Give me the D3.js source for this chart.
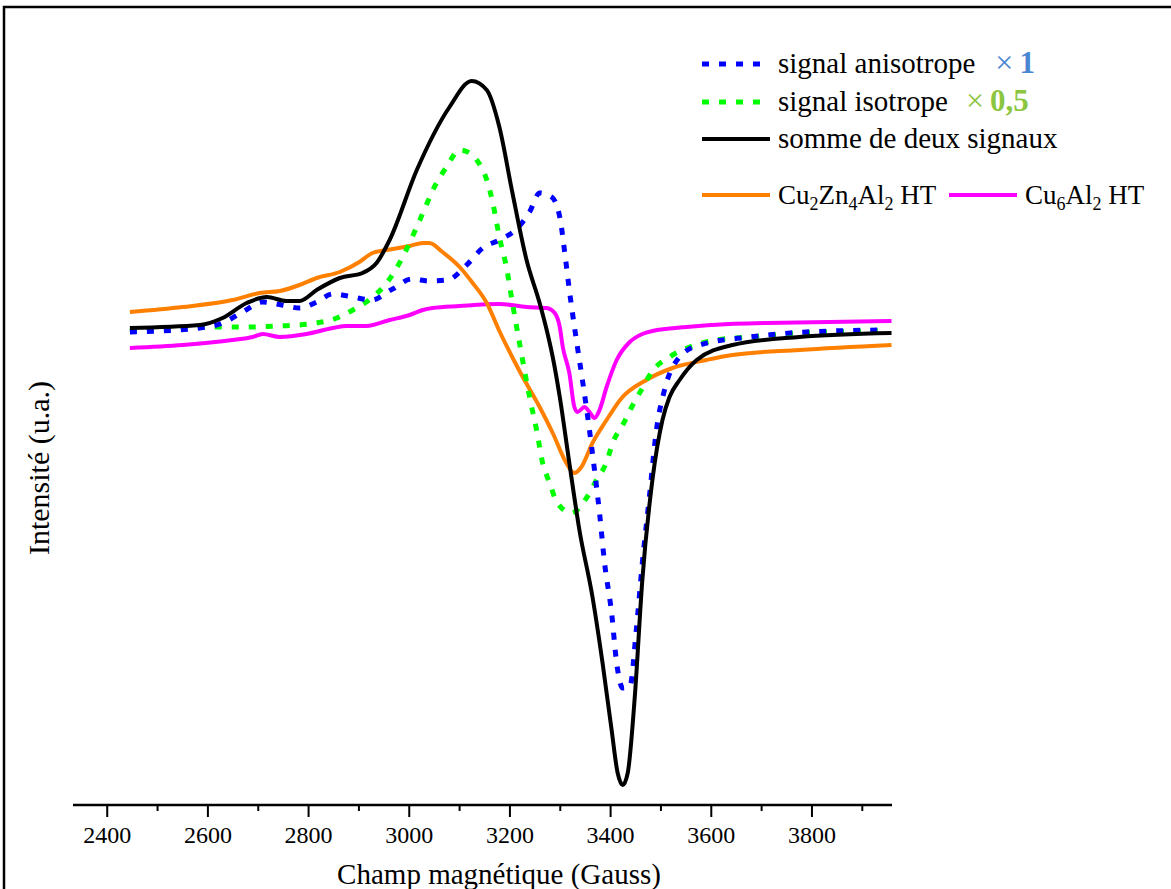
<!DOCTYPE html>
<html>
<head>
<meta charset="utf-8">
<script src="https://cdn.jsdelivr.net/npm/d3@7"></script>
<style>
  html, body { margin: 0; padding: 0; background: #fff; }
  svg { display: block; }
  text { font-family: "Liberation Serif", "Times New Roman", serif; fill: #000; }
</style>
</head>
<body>
<svg id="chart" width="1171" height="889"></svg>
<script>
// ---- Data (magnetic field in Gauss, intensity in arbitrary units) ----
const sumSignal = [
  [2446, 2], [2585, 5], [2630, 12], [2678, 27], [2718, 33], [2757, 29], [2783, 29],
  [2817, 40], [2863, 52], [2908, 57], [2936, 67], [2962, 90], [3016, 160], [3081, 223],
  [3125, 249], [3155, 240], [3180, 203], [3206, 137], [3234, 70], [3260, 27], [3274, 0],
  [3286, -27], [3300, -67], [3319, -133], [3339, -200], [3365, -267], [3385, -333],
  [3403, -400], [3415, -443], [3425, -455], [3435, -443], [3449, -367], [3464, -250],
  [3484, -150], [3504, -90], [3518, -67], [3538, -50], [3572, -30], [3643, -15],
  [3776, -7], [3959, -3]
];
const anisoSignal = [
  [2446, -2], [2585, 2], [2630, 7], [2670, 18], [2710, 28], [2748, 25], [2783, 22],
  [2817, 28], [2849, 36], [2889, 33], [2926, 30], [2968, 41], [3006, 51], [3041, 49],
  [3077, 50], [3115, 65], [3147, 82], [3180, 90], [3216, 102], [3240, 118], [3260, 137],
  [3284, 133], [3300, 113], [3310, 77], [3319, 40], [3333, -10], [3345, -50], [3359, -100],
  [3369, -140], [3379, -183], [3389, -233], [3403, -283], [3413, -333], [3425, -358],
  [3439, -357], [3452, -300], [3464, -233], [3478, -167], [3492, -100], [3508, -60],
  [3538, -27], [3578, -15], [3677, -7], [3790, -2], [3941, 0]
];
const isoSignal = [
  [2446, -1], [2585, 3], [2670, 3], [2744, 4], [2817, 7], [2857, 12], [2889, 20],
  [2926, 32], [2956, 47], [2988, 73], [3022, 110], [3055, 147], [3075, 163], [3101, 180],
  [3121, 177], [3135, 170], [3155, 150], [3167, 127], [3180, 93], [3194, 63], [3206, 27],
  [3220, -13], [3240, -67], [3254, -100], [3266, -133], [3280, -153], [3294, -172],
  [3323, -183], [3353, -168], [3373, -150], [3393, -132], [3405, -113], [3425, -95],
  [3443, -77], [3462, -60], [3484, -41], [3518, -27], [3558, -17], [3611, -10],
  [3677, -7], [3776, -3], [3941, -1]
];
const cuZnAl = [
  [2446, 18], [2551, 23], [2650, 30], [2704, 37], [2744, 39], [2783, 45], [2817, 52],
  [2863, 58], [2902, 68], [2928, 77], [2968, 81], [3002, 84], [3028, 87], [3041, 87],
  [3067, 78], [3101, 63], [3127, 47], [3155, 27], [3180, -1], [3220, -41],
  [3260, -77], [3286, -103], [3313, -133], [3329, -143], [3343, -137], [3365, -113],
  [3393, -90], [3423, -68], [3472, -50], [3524, -38], [3591, -30], [3643, -25],
  [3776, -20], [3959, -15]
];
const cuAl = [
  [2446, -18], [2551, -15], [2650, -10], [2690, -7], [2710, -4], [2744, -7], [2797, -4],
  [2849, 2], [2877, 4], [2916, 4], [2962, 10], [3002, 15], [3028, 20], [3047, 22],
  [3101, 24], [3180, 26], [3234, 23], [3274, 22], [3290, 17], [3300, 3], [3306, -17],
  [3319, -43], [3329, -77], [3335, -82], [3349, -77], [3359, -82], [3369, -88],
  [3379, -80], [3393, -57], [3413, -30], [3439, -12], [3464, -4], [3484, -1],
  [3552, 3], [3637, 6], [3711, 7], [3959, 9]
];

const majorTicks = [2400, 2600, 2800, 3000, 3200, 3400, 3600, 3800];
const minorTicks = [2500, 2700, 2900, 3100, 3300, 3500, 3700, 3900];

const xTitle = "Champ magnétique (Gauss)";
const yTitle = "Intensité (u.a.)";

// ---- Layout ----
const svg = d3.select("#chart");
const x = d3.scaleLinear().domain([2333, 3960]).range([73, 892]);
const y = d3.scaleLinear().domain([-474, 326]).range([804, 4]);

// frame
svg.append("rect").attr("x", 4).attr("y", 7).attr("width", 1200).attr("height", 950)
  .attr("fill", "none").attr("stroke", "#000").attr("stroke-width", 2.5);

// x axis
const axisY = 805;
const gMinor = svg.append("g").attr("transform", `translate(0,${axisY})`)
  .call(d3.axisBottom(x).tickValues(minorTicks).tickSize(6).tickFormat(""));
gMinor.select(".domain").remove();
gMinor.selectAll(".tick line").attr("stroke", "#000").attr("stroke-width", 2);

const gMajor = svg.append("g").attr("transform", `translate(0,${axisY})`)
  .call(d3.axisBottom(x).tickValues(majorTicks).tickSize(12).tickPadding(9).tickFormat(d3.format("d")));
gMajor.select(".domain").remove();
gMajor.selectAll(".tick line").attr("stroke", "#000").attr("stroke-width", 2);
gMajor.selectAll(".tick text")
  .attr("font-family", "Liberation Serif, Times New Roman, serif")
  .attr("font-size", 24).attr("fill", "#000");

svg.append("line").attr("x1", x.range()[0]).attr("x2", x.range()[1])
  .attr("y1", axisY).attr("y2", axisY).attr("stroke", "#000").attr("stroke-width", 2.5);

// titles
svg.append("text").attr("x", 499).attr("y", 884).attr("text-anchor", "middle")
  .attr("font-size", 29).text(xTitle);
svg.append("text").attr("transform", "translate(49,468) rotate(-90)")
  .attr("text-anchor", "middle").attr("font-size", 30).text(yTitle);

// ---- Series ----
const line = d3.line().x(d => x(d[0])).y(d => y(d[1])).curve(d3.curveMonotoneX);

const series = [
  { data: cuAl, color: "#ff00ff", dash: null, width: 4 },
  { data: cuZnAl, color: "#ff8000", dash: null, width: 4 },
  { data: isoSignal, color: "#00ff00", dash: "7,10", width: 5 },
  { data: anisoSignal, color: "#0000ff", dash: "7,10", width: 5 },
  { data: sumSignal, color: "#000000", dash: null, width: 4 }
];
series.forEach(s => {
  svg.append("path").datum(s.data).attr("d", line)
    .attr("fill", "none").attr("stroke", s.color).attr("stroke-width", s.width)
    .attr("stroke-dasharray", s.dash).attr("stroke-linejoin", "round");
});

// ---- Legend ----
const leg = svg.append("g");
const legRows = [
  { y: 64, color: "#0000ff", dash: "7,10", width: 5, label: "signal anisotrope", factor: ["×", "1"], fdx: 20, fcolor: "#4a86d2" },
  { y: 102, color: "#00ff00", dash: "7,10", width: 5, label: "signal isotrope", factor: ["×", "0,5"], fdx: 18, fcolor: "#8cc640" },
  { y: 139, color: "#000000", dash: null, width: 4, label: "somme de deux signaux" }
];
legRows.forEach(r => {
  leg.append("line").attr("x1", 702).attr("x2", 770).attr("y1", r.y).attr("y2", r.y)
    .attr("stroke", r.color).attr("stroke-width", r.width).attr("stroke-dasharray", r.dash);
  const t = leg.append("text").attr("x", 778).attr("y", r.y + 9).attr("font-size", 29);
  t.append("tspan").text(r.label);
  if (r.factor) {
    t.append("tspan").attr("dx", r.fdx).attr("fill", r.fcolor).attr("font-size", 32).text(r.factor[0]);
    t.append("tspan").attr("dx", 6).attr("fill", r.fcolor).attr("font-size", 31)
      .attr("font-weight", "bold").text(r.factor[1]);
  }
});

// formula legend row
function formula(g, xPos, yPos, parts) {
  const t = g.append("text").attr("x", xPos).attr("y", yPos).attr("font-size", 27);
  let down = false;
  parts.forEach(p => {
    const ts = t.append("tspan").text(p.t);
    if (p.sub) {
      ts.attr("font-size", 18).attr("dy", down ? 0 : 6);
      down = true;
    } else {
      if (down) ts.attr("dy", -6);
      down = false;
    }
  });
}
leg.append("line").attr("x1", 702).attr("x2", 770).attr("y1", 195).attr("y2", 195)
  .attr("stroke", "#ff8000").attr("stroke-width", 4);
formula(leg, 778, 204, [{t:"Cu"},{t:"2",sub:true},{t:"Zn"},{t:"4",sub:true},{t:"Al"},{t:"2",sub:true},{t:" HT"}]);
leg.append("line").attr("x1", 949).attr("x2", 1017).attr("y1", 195).attr("y2", 195)
  .attr("stroke", "#ff00ff").attr("stroke-width", 4);
formula(leg, 1025, 204, [{t:"Cu"},{t:"6",sub:true},{t:"Al"},{t:"2",sub:true},{t:" HT"}]);
</script>
</body>
</html>
